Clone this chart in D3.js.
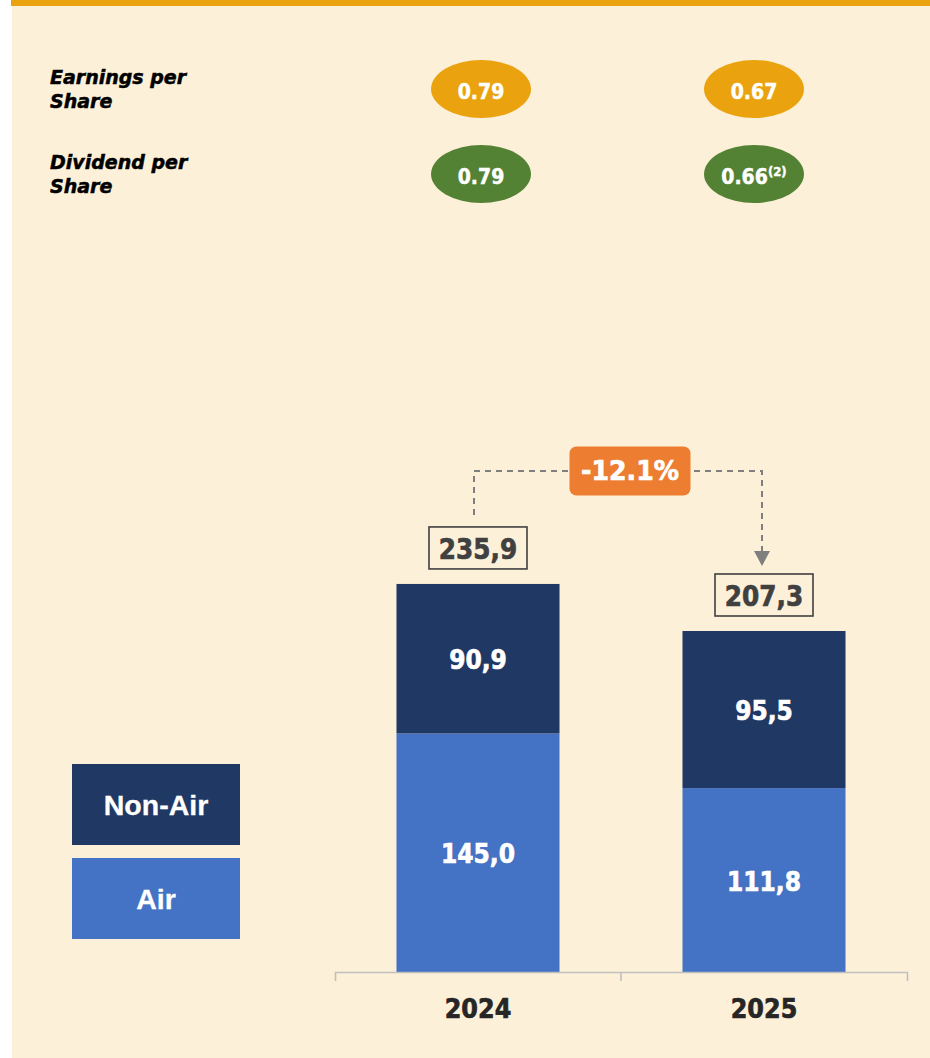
<!DOCTYPE html>
<html>
<head>
<meta charset="utf-8">
<script src="https://cdn.jsdelivr.net/npm/d3@7"></script>
<style>
  html, body { margin: 0; padding: 0; background: #ffffff; }
  svg { display: block; }
</style>
</head>
<body>
<div id="chart"></div>
<script>
// Chart data
const years = ["2024", "2025"];
const airRevenue = [145.0, 111.8];
const nonAirRevenue = [90.9, 95.5];
const seriesNames = ["Non-Air", "Air"];

// Per share figures shown in the header
const epsValues = ["0.79", "0.67"];
const dpsValues = ["0.79", "0.66"];
const dpsNotes = ["", "(2)"];
const rowLabels = [["Earnings per", "Share"], ["Dividend per", "Share"]];

const colors = {
  bg: "#fdf0d8",
  topBar: "#eaa30e",
  nonAir: "#203864",
  air: "#4472c4",
  eps: "#eaa30e",
  dps: "#548235",
  badge: "#ed7d31",
  dash: "#7f7f7f",
  total: "#404040",
  axis: "#bfbfbf",
  year: "#262626"
};

const W = 930, H = 1058;
const BOLD = "'DejaVu Sans', Verdana, sans-serif";
const ARIAL = "'Liberation Sans', Arial, sans-serif";

// decimals with comma, like the source slide
const fmt = v => d3.format(".1f")(v).replace(".", ",");

const totals = years.map((d, i) => +(airRevenue[i] + nonAirRevenue[i]).toFixed(1));
const change = (totals[1] - totals[0]) / totals[0];
const changeLabel = d3.format(".1f")(change * 100).replace("\u2212", "-") + "%";

const svg = d3.select("#chart")
  .append("svg")
  .attr("width", W)
  .attr("height", H);

// background panel and top stripe
svg.append("rect").attr("x", 12).attr("y", 0).attr("width", W - 12).attr("height", H).attr("fill", colors.bg);
svg.append("rect").attr("x", 11).attr("y", 0).attr("width", W - 11).attr("height", 6).attr("fill", colors.topBar);

// helper: centred bold text, squeezed a bit horizontally and thickened
// a little with a stroke (the slide uses a heavier, narrower face)
function label(g, x, y, text, size, fill, sx, family, heavy) {
  return g.append("text")
    .attr("transform", `translate(${x},${y}) scale(${sx},1)`)
    .attr("text-anchor", "middle")
    .attr("font-family", family || BOLD)
    .attr("font-weight", "bold")
    .attr("font-size", size)
    .attr("fill", fill)
    .attr("stroke", fill)
    .attr("stroke-width", heavy == null ? 0.7 : heavy)
    .text(text);
}

// ---- header: EPS / DPS ----
const colX = d3.scalePoint().domain(years).range([481, 754]);
const rowY = d3.scalePoint().domain(["eps", "dps"]).range([89, 174]);

const header = svg.append("g");

rowLabels.forEach((lines, r) => {
  const cy = rowY(r === 0 ? "eps" : "dps");
  const t = header.append("text")
    .attr("font-family", BOLD)
    .attr("font-weight", "bold")
    .attr("font-style", "italic")
    .attr("font-size", 19)
    .attr("fill", "#000")
    .attr("stroke", "#000")
    .attr("stroke-width", 0.5);
  lines.forEach((line, j) => {
    t.append("tspan").attr("x", 50).attr("y", cy - 5 + j * 23.5).text(line);
  });
});

[["eps", epsValues, colors.eps, ["", ""]], ["dps", dpsValues, colors.dps, dpsNotes]].forEach(([key, vals, fill, notes]) => {
  years.forEach((yr, i) => {
    const cx = colX(yr), cy = rowY(key);
    header.append("ellipse")
      .attr("cx", cx).attr("cy", cy)
      .attr("rx", 50).attr("ry", 29)
      .attr("fill", fill);
    const t = label(header, cx, cy + 10, null, 21, "#fff", 0.9, BOLD, 0.5);
    t.append("tspan").text(vals[i]);
    if (notes[i]) {
      t.append("tspan").attr("font-size", 13).attr("dy", -8).text(notes[i]);
    }
  });
});

// ---- stacked bars ----
const x = d3.scaleBand()
  .domain(years)
  .range([335, 907])
  .paddingInner(0.43)
  .paddingOuter(0.215);

const y = d3.scaleLinear()
  .domain([0, 250])
  .range([972, 560.75]);

const stackData = years.map((yr, i) => ({ year: yr, Air: airRevenue[i], "Non-Air": nonAirRevenue[i] }));
const series = d3.stack().keys(["Air", "Non-Air"])(stackData);
const fillFor = { "Air": colors.air, "Non-Air": colors.nonAir };

const bars = svg.append("g");
series.forEach(s => {
  s.forEach(seg => {
    const yr = seg.data.year;
    bars.append("rect")
      .attr("x", x(yr))
      .attr("y", y(seg[1]))
      .attr("width", x.bandwidth())
      .attr("height", y(seg[0]) - y(seg[1]))
      .attr("fill", fillFor[s.key]);
    label(bars, x(yr) + x.bandwidth() / 2, (y(seg[0]) + y(seg[1])) / 2 + 10.5,
      fmt(seg[1] - seg[0]), 26, "#fff", 0.9);
  });
});

// totals in outlined boxes
const boxW = 98, boxH = 42, boxGap = 15;
years.forEach((yr, i) => {
  const cx = x(yr) + x.bandwidth() / 2;
  const top = y(totals[i]) - boxGap - boxH;
  svg.append("rect")
    .attr("x", cx - boxW / 2).attr("y", top)
    .attr("width", boxW).attr("height", boxH)
    .attr("fill", "none")
    .attr("stroke", colors.total)
    .attr("stroke-width", 1.6);
  label(svg, cx, top + boxH / 2 + 11, fmt(totals[i]), 27.5, colors.total, 0.9);
});

// dashed connector with the change badge
const cx0 = x(years[0]) + x.bandwidth() / 2 - 4;
const cx1 = x(years[1]) + x.bandwidth() / 2 - 2;
const lineY = y(d3.max(totals)) - 113;
const startY = y(totals[0]) - boxGap - boxH - 12;
const endY = y(totals[1]) - boxGap - boxH - 8;
const badgeCx = (cx0 + cx1) / 2 + 12;

svg.append("path")
  .attr("d", `M${cx0},${startY}V${lineY}H${cx1}V${endY - 14}`)
  .attr("fill", "none")
  .attr("stroke", colors.dash)
  .attr("stroke-width", 2)
  .attr("stroke-dasharray", "6,5");

svg.append("path")
  .attr("d", `M${cx1 - 8},${endY - 15}L${cx1 + 8},${endY - 15}L${cx1},${endY}Z`)
  .attr("fill", colors.dash);

svg.append("rect")
  .attr("x", badgeCx - 60.5).attr("y", lineY - 24.5)
  .attr("width", 121).attr("height", 49)
  .attr("rx", 7)
  .attr("fill", colors.badge);
label(svg, badgeCx, lineY + 9.5, changeLabel, 26, "#fff", 0.97);

// ---- x axis ----
const axis = svg.append("g")
  .attr("transform", `translate(0,${y(0)})`)
  .call(d3.axisBottom(x).tickSizeInner(0).tickSizeOuter(9));

axis.select(".domain").attr("stroke", colors.axis).attr("stroke-width", 1.6);
axis.selectAll(".tick line").remove();
axis.selectAll(".tick text")
  .attr("y", 46)
  .attr("dy", null)
  .attr("transform", "scale(0.92,1)")
  .attr("font-family", BOLD)
  .attr("font-weight", "bold")
  .attr("font-size", 26)
  .attr("fill", colors.year)
  .attr("stroke", colors.year)
  .attr("stroke-width", 0.7);

// divider tick between the two years
const mid = x(years[0]) + x.bandwidth() + x.step() * x.paddingInner() / 2;
axis.append("line")
  .attr("x1", mid).attr("x2", mid)
  .attr("y1", 0).attr("y2", 9)
  .attr("stroke", colors.axis)
  .attr("stroke-width", 1.6);

// ---- legend ----
const legend = svg.append("g");
const legendY = d3.scalePoint().domain(seriesNames).range([764, 858]);
seriesNames.forEach(name => {
  legend.append("rect")
    .attr("x", 72).attr("y", legendY(name))
    .attr("width", 168).attr("height", 81)
    .attr("fill", fillFor[name]);
  label(legend, 156, legendY(name) + 40.5 + 10.5, name, 28.5, "#fff", 1, ARIAL, 0.3);
});
</script>
</body>
</html>
